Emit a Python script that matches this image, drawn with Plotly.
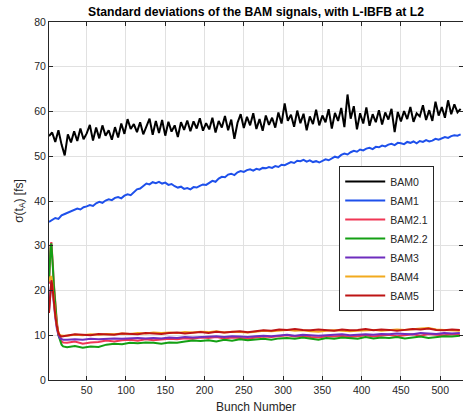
import plotly.graph_objects as go

# ---------------- data ----------------
bunch = list(range(2, 527, 4))

bam0 = [54.5, 55.3, 53.2, 55.8, 52.6, 50.2, 54.9, 53.1, 55.6, 53.4, 56.2, 53.8, 55.1, 57.0, 53.5, 56.4,
        54.0, 56.9, 54.6, 55.8, 53.7, 56.5, 54.2, 57.3, 55.0, 58.3, 56.1, 57.2, 55.4, 57.6, 54.9, 56.8,
        58.4, 54.8, 57.9, 55.2, 58.1, 54.6, 57.7, 55.5, 56.9, 54.3, 57.6, 55.9, 58.0, 55.6, 57.8, 56.2,
        58.5, 55.7, 57.4, 56.0, 58.6, 55.3, 57.9, 56.4, 59.0, 55.8, 58.2, 53.9, 57.5, 59.4, 56.3, 58.8,
        56.9, 59.6, 56.1, 58.3, 55.7, 59.1, 57.0, 58.6, 56.4, 59.8, 57.3, 61.8, 57.9, 59.3, 56.6, 60.2,
        57.4, 59.5, 55.8, 58.9, 57.2, 60.4, 56.9, 59.1, 57.6, 60.5, 56.2, 59.7, 57.9, 60.8, 56.5, 63.8,
        58.4, 61.2, 56.0, 59.6, 57.3, 60.9, 56.8, 59.4, 57.6, 60.3, 57.1, 59.8, 58.2, 60.6, 55.4, 59.9,
        57.8, 60.1, 58.3, 61.0, 57.7, 59.6, 58.9, 61.4, 58.1, 60.3, 57.9, 62.2, 59.1, 61.0, 58.6, 62.5,
        59.4, 61.6, 59.8, 60.6]

bam1 = [35.3, 35.8, 36.2, 36.0, 36.8, 37.1, 37.4, 37.6, 37.9, 38.3, 38.1, 38.6, 38.8, 39.1, 38.9, 39.5,
        39.8, 39.6, 40.1, 40.4, 40.2, 40.7, 40.9, 40.6, 41.2, 41.5, 41.3, 42.0, 42.6, 42.8, 43.4, 43.9,
        43.7, 44.2, 44.0, 44.3, 43.9, 44.1, 43.6, 43.8, 43.3, 43.0, 43.2, 42.7, 42.9, 42.6, 43.1, 43.0,
        43.4, 43.7, 43.6, 44.1, 44.5, 44.3, 45.0, 45.4, 45.3, 45.9, 46.1, 45.8, 46.4, 46.7, 46.5, 46.9,
        47.1, 46.8, 47.2, 47.0, 47.4, 47.3, 47.6, 47.4, 47.8, 47.6, 48.1, 48.0, 48.4, 48.7, 48.5, 49.0,
        48.9, 49.2, 48.8, 49.1, 48.7, 48.9, 48.6, 49.0, 49.3, 49.1, 49.6, 49.9, 49.7, 50.3, 50.6, 50.4,
        50.9, 51.2, 51.0, 51.5, 51.3, 51.7, 51.9, 51.6, 52.1, 52.0, 52.4, 52.2, 52.6, 52.8, 52.5, 53.0,
        52.9, 52.7, 53.2, 53.0, 53.3, 52.9, 53.4, 53.2, 53.6, 53.3, 53.5, 53.9, 53.7, 54.0, 54.3, 54.1,
        54.5, 54.7, 54.6, 54.9]

bunch_low = [2, 3, 4, 5, 6, 7, 8, 10, 12, 14, 16, 18, 20,
             25, 35, 45, 55, 65, 75, 85, 95, 105, 115, 125, 135, 145, 155, 165, 175, 185, 195,
             205, 215, 225, 235, 245, 255, 265, 275, 285, 295, 305, 315, 325, 335, 345, 355,
             365, 375, 385, 395, 405, 415, 425, 435, 445, 455, 465, 475, 485, 495, 505, 515, 525]

bam2_1 = [21.5, 26.8, 30.0, 30.8, 28.8, 25.5, 22.0, 17.0, 13.0, 10.3, 9.2, 8.6, 8.4,
          8.3, 8.6, 8.1, 8.4, 8.5, 8.8, 8.6, 8.9, 9.0, 8.8, 9.1, 8.9, 9.0, 9.2, 9.1, 9.3, 9.2, 9.5,
          9.4, 9.6, 9.3, 9.5, 9.4, 9.2, 9.5, 9.7, 9.6, 9.8, 10.0, 9.7, 9.9, 9.6, 9.5, 9.8,
          9.7, 9.9, 9.6, 9.8, 10.0, 9.7, 9.9, 10.1, 9.8, 10.0, 10.2, 9.9, 10.3, 10.1, 10.0, 10.2, 10.1]

bam2_2 = [22.0, 26.5, 29.5, 30.5, 28.5, 25.0, 21.5, 16.5, 12.5, 10.0, 8.8, 7.9, 7.5,
          7.3, 7.6, 7.2, 7.5, 7.4, 7.9, 8.1, 8.0, 8.3, 8.2, 8.4, 8.3, 8.1, 8.4, 8.3, 8.6, 8.8, 8.7,
          8.9, 8.6, 9.0, 8.8, 9.1, 8.9, 9.0, 9.2, 9.0, 9.3, 9.4, 9.2, 9.5, 9.3, 9.0, 9.4,
          9.2, 9.5, 9.3, 9.2, 9.6, 9.3, 9.5, 9.4, 9.6, 9.3, 9.5, 9.7, 9.4, 9.6, 9.8, 9.7, 9.9]

bam3 = [15.5, 18.5, 21.0, 22.0, 21.0, 19.0, 17.0, 14.0, 11.5, 10.0, 9.3, 9.1, 9.0,
        9.0, 9.1, 9.0, 9.2, 9.1, 9.2, 9.3, 9.2, 9.3, 9.4, 9.3, 9.4, 9.3, 9.5, 9.4, 9.6, 9.5, 9.6,
        9.7, 9.8, 9.6, 9.8, 9.7, 9.6, 9.8, 9.9, 9.8, 10.0, 10.1, 9.9, 10.1, 10.0, 9.9, 10.0,
        10.1, 10.2, 10.0, 10.1, 10.2, 10.1, 10.3, 10.2, 10.4, 10.3, 10.2, 10.5, 10.4, 10.3, 10.5, 10.4, 10.5]

bam4 = [22.0, 22.8, 23.2, 23.0, 22.0, 20.0, 18.0, 14.8, 12.2, 10.6, 10.0, 9.9, 9.9,
        9.9, 10.1, 10.0, 10.2, 10.1, 10.3, 10.2, 10.4, 10.3, 10.5, 10.4, 10.6, 10.5, 10.6, 10.5, 10.7, 10.6, 10.8,
        10.7, 10.9, 10.6, 10.8, 10.7, 10.6, 10.8, 11.0, 10.9, 11.1, 11.2, 11.0, 11.1, 10.9, 10.8, 11.0,
        11.1, 11.0, 10.9, 11.0, 11.1, 11.2, 11.0, 11.1, 11.3, 11.2, 11.4, 11.5, 11.6, 11.3, 11.2, 11.1, 11.0]

bam5 = [15.0, 18.5, 21.2, 22.3, 21.5, 19.5, 17.5, 14.5, 12.0, 10.5, 9.9, 9.7, 9.8,
        9.9, 10.2, 10.1, 10.0, 10.3, 10.2, 10.1, 10.4, 10.3, 10.2, 10.5, 10.4, 10.3, 10.5, 10.6, 10.4, 10.6, 10.7,
        10.5, 10.8, 10.6, 10.7, 10.9, 10.7, 10.9, 11.1, 11.0, 11.3, 11.2, 11.4, 11.2, 11.1, 11.3, 11.2,
        11.0, 11.3, 11.1, 11.2, 11.4, 11.1, 11.3, 11.2, 11.0, 11.2, 11.4, 11.3, 11.5, 11.2, 11.1, 11.3, 11.2]

y_ticks = [0, 10, 20, 30, 40, 50, 60, 70, 80]
x_ticks = [50, 100, 150, 200, 250, 300, 350, 400, 450, 500]

# ---------------- figure ----------------
series = [
    ("BAM0", bunch, bam0, "rgb(0,0,0)"),
    ("BAM1", bunch, bam1, "rgb(30,80,235)"),
    ("BAM2.1", bunch_low, bam2_1, "rgb(240,55,85)"),
    ("BAM2.2", bunch_low, bam2_2, "rgb(20,160,20)"),
    ("BAM3", bunch_low, bam3, "rgb(110,45,190)"),
    ("BAM4", bunch_low, bam4, "rgb(242,170,30)"),
    ("BAM5", bunch_low, bam5, "rgb(190,20,20)"),
]

fig = go.Figure()
for name, xs, ys, col in series:
    fig.add_trace(go.Scatter(x=xs, y=ys, mode="lines", name=name,
                             line=dict(color=col, width=2)))

axis_col = "rgb(38,38,38)"
grid_col = "rgb(225,225,225)"
font_family = "Liberation Sans, Arial, sans-serif"

fig.update_layout(
    width=463, height=420,
    margin=dict(l=49, r=0, t=22, b=40),
    paper_bgcolor="white", plot_bgcolor="white",
    font=dict(family=font_family, size=10, color=axis_col),
    title=dict(text="<b>Standard deviations of the BAM signals, with L-IBFB at L2</b>",
               x=0.5, xref="paper", xanchor="center", y=0.972, yanchor="middle",
               font=dict(size=12.2, color="black")),
    showlegend=True,
    legend=dict(x=0.701, y=0.598, xanchor="left", yanchor="top",
                bgcolor="white", bordercolor=axis_col, borderwidth=1,
                font=dict(size=10.5, color=axis_col), tracegroupgap=0,
                itemwidth=40, entrywidth=58),
)

fig.update_xaxes(
    range=[2, 529], tickvals=x_ticks, ticks="inside", ticklen=4, tickcolor=axis_col,
    showline=True, linecolor=axis_col, linewidth=1, mirror="ticks",
    showgrid=True, gridcolor=grid_col, gridwidth=1, zeroline=False,
    tickfont=dict(size=10.5, color=axis_col),
    title=dict(text="Bunch Number", font=dict(size=12, color=axis_col), standoff=8),
)
fig.update_yaxes(
    range=[0, 80], tickvals=y_ticks, ticks="inside", ticklen=4, tickcolor=axis_col,
    showline=True, linecolor=axis_col, linewidth=1, mirror="ticks",
    showgrid=True, gridcolor=grid_col, gridwidth=1, zeroline=False,
    tickfont=dict(size=10.5, color=axis_col),
    title=dict(text="σ(t<sub>A</sub>) [fs]", font=dict(size=12, color=axis_col), standoff=8),
)

fig.write_html("out.html")
